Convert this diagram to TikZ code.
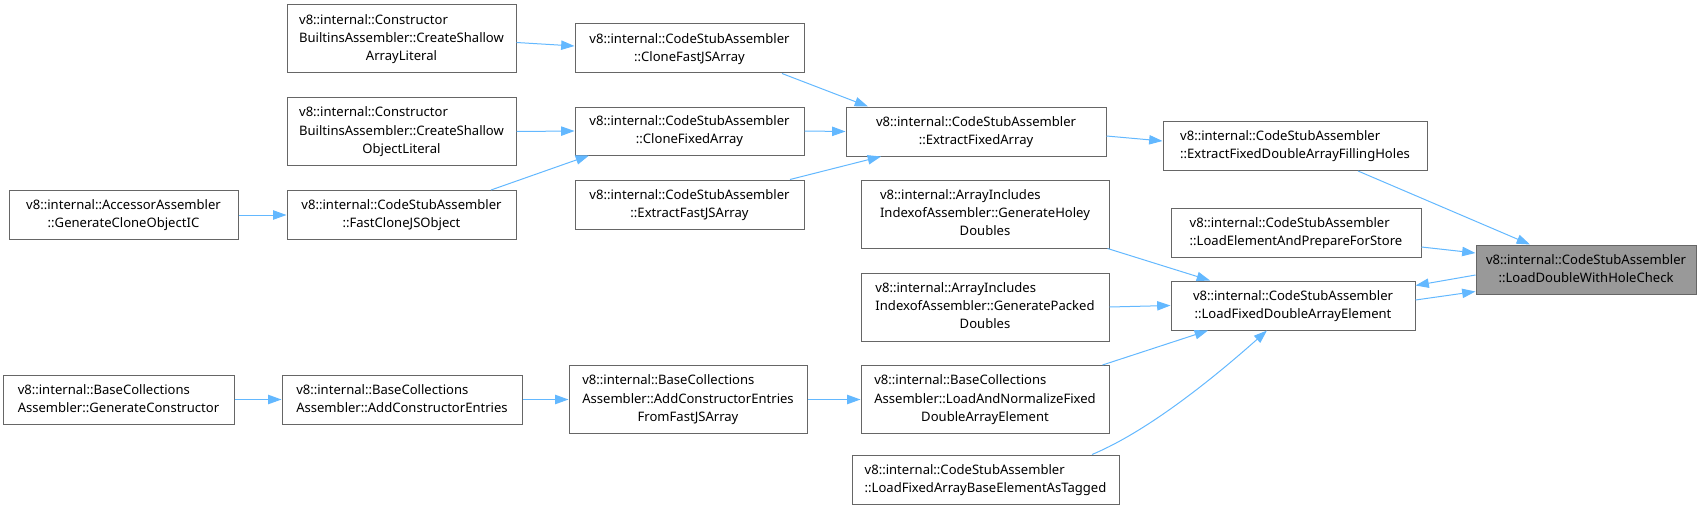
\documentclass[tikz,border=0pt]{standalone}
\usepackage{fontspec}
\setmainfont{Noto Sans}
\usetikzlibrary{arrows.meta,calc}
\definecolor{edgeblue}{HTML}{63B8FF}
\definecolor{boxline}{HTML}{666666}
\definecolor{hifill}{HTML}{999999}
\newcommand{\dxlabel}[2]{\begin{tabular}{@{}l@{}}#1\\\multicolumn{1}{@{}c@{}}{#2}\end{tabular}}
\begin{document}
\begin{tikzpicture}[x=0.75pt,y=-0.75pt,
  box/.style={draw=boxline,line width=0.75pt,fill=white,inner sep=0pt,
    font=\fontsize{9.8}{13.7}\selectfont,align=center},
  hilite/.style={box,fill=hifill},
  nw/.style={minimum width=#1*0.75pt},
  nh/.style={minimum height=#1*0.75pt},
  link/.style={draw=edgeblue,line width=0.75pt,-{Triangle[length=10pt,width=7pt]}}]
\useasboundingbox (0,0) rectangle (1701,510);
\node[box,nw=229,nh=68] (A) at (401.5,39) {\dxlabel{v8::internal::Constructor\\BuiltinsAssembler::CreateShallow}{ArrayLiteral}};
\node[box,nw=229,nh=49] (B) at (689.5,48.5) {\dxlabel{v8::internal::CodeStubAssembler}{::CloneFastJSArray}};
\node[box,nw=229,nh=68] (C) at (401.5,131.5) {\dxlabel{v8::internal::Constructor\\BuiltinsAssembler::CreateShallow}{ObjectLiteral}};
\node[box,nw=229,nh=48] (D) at (689.5,131) {\dxlabel{v8::internal::CodeStubAssembler}{::CloneFixedArray}};
\node[box,nw=229,nh=49] (E) at (123.5,215) {\dxlabel{v8::internal::AccessorAssembler}{::GenerateCloneObjectIC}};
\node[box,nw=229,nh=49] (F) at (401.5,215) {\dxlabel{v8::internal::CodeStubAssembler}{::FastCloneJSObject}};
\node[box,nw=229,nh=49] (G) at (689.5,204.5) {\dxlabel{v8::internal::CodeStubAssembler}{::ExtractFastJSArray}};
\node[box,nw=260,nh=49] (H) at (976,131.5) {\dxlabel{v8::internal::CodeStubAssembler}{::ExtractFixedArray}};
\node[box,nw=264,nh=49] (I) at (1295,146) {\dxlabel{v8::internal::CodeStubAssembler}{::ExtractFixedDoubleArrayFillingHoles}};
\node[box,nw=250,nh=49] (J) at (1296,232.5) {\dxlabel{v8::internal::CodeStubAssembler}{::LoadElementAndPrepareForStore}};
\node[hilite,nw=220,nh=49] (K) at (1586,269.5) {\dxlabel{v8::internal::CodeStubAssembler}{::LoadDoubleWithHoleCheck}};
\node[box,nw=248,nh=68] (L) at (985,214) {\dxlabel{v8::internal::ArrayIncludes\\IndexofAssembler::GenerateHoley}{Doubles}};
\node[box,nw=248,nh=68] (M) at (985,307) {\dxlabel{v8::internal::ArrayIncludes\\IndexofAssembler::GeneratePacked}{Doubles}};
\node[box,nw=244,nh=49] (N) at (1293,305.5) {\dxlabel{v8::internal::CodeStubAssembler}{::LoadFixedDoubleArrayElement}};
\node[box,nw=231,nh=49] (O) at (118.5,399.5) {\dxlabel{v8::internal::BaseCollections}{Assembler::GenerateConstructor}};
\node[box,nw=240,nh=49] (P) at (402,399.5) {\dxlabel{v8::internal::BaseCollections}{Assembler::AddConstructorEntries}};
\node[box,nw=238,nh=68] (Q) at (688,399.5) {\dxlabel{v8::internal::BaseCollections\\Assembler::AddConstructorEntries}{FromFastJSArray}};
\node[box,nw=248,nh=68] (R) at (985,399.5) {\dxlabel{v8::internal::BaseCollections\\Assembler::LoadAndNormalizeFixed}{DoubleArrayElement}};
\node[box,nw=267,nh=49] (S) at (985.5,479.5) {\dxlabel{v8::internal::CodeStubAssembler}{::LoadFixedArrayBaseElementAsTagged}};
\draw[link] ($(A.east)+(0,3.5)$) -- ($(B.west)+(0,-2.5)$);
\draw[link] (C.east) -- (D.west);
\draw[link] (E.east) -- (F.west);
\draw[link] ($(F.north)+(89.5,0)$) -- ($(D.south)+(-100.5,0)$);
\draw[link] ($(B.south)+(92.5,0)$) -- ($(H.north)+(-108,0)$);
\draw[link] (D.east) -- (H.west);
\draw[link] ($(G.north)+(100.5,0)$) -- ($(H.south)+(-95,0)$);
\draw[link] ($(H.east)+(0,4.5)$) -- ($(I.west)+(0,-5)$);
\draw[link] ($(I.south)+(63,0)$) -- ($(K.north)+(-56,0)$);
\draw[link] ($(J.east)+(0,14.5)$) -- ($(K.west)+(0,-16.5)$);
\draw[link] ($(K.west)+(0,5.5)$) -- ($(N.east)+(0,-20)$);
\draw[link] ($(N.east)+(0,-5.5)$) -- ($(K.west)+(0,22)$);
\draw[link] ($(L.south east)+(-2,0)$) -- ($(N.north)+(-83,0)$);
\draw[link] (M.east) -- (N.west);
\draw[link] ($(R.north east)+(-7,0)$) -- ($(N.south)+(-85,0)$);
\draw[link] ($(S.north)+(106.5,0)$) .. controls +(60,-25) and +(-45,40) .. ($(N.south)+(-26,0)$);
\draw[link] (O.east) -- (P.west);
\draw[link] (P.east) -- (Q.west);
\draw[link] (Q.east) -- (R.west);
\end{tikzpicture}
\end{document}
